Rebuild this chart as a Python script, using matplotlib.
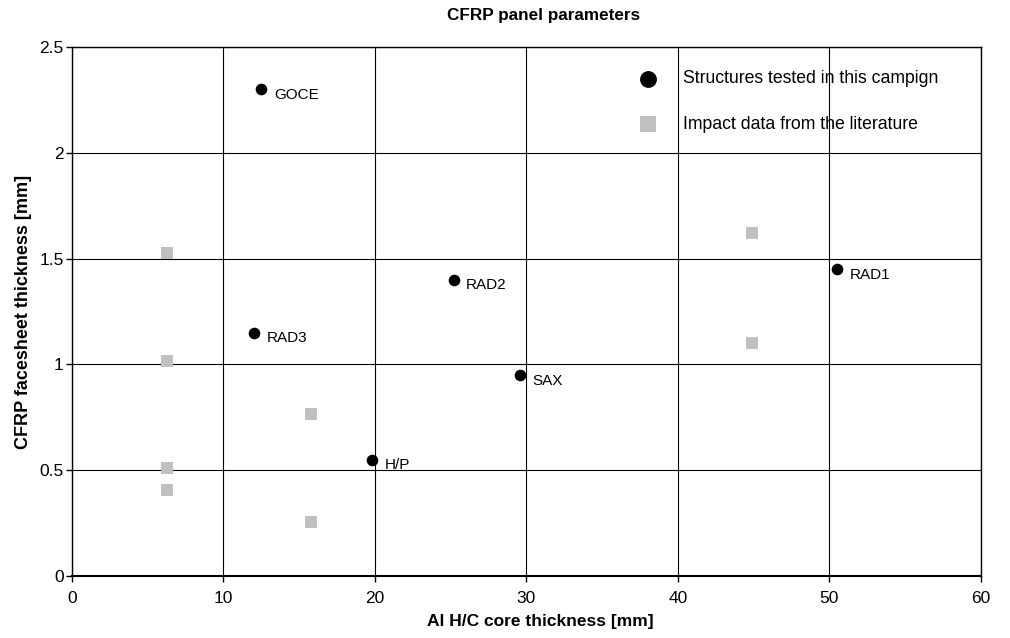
import matplotlib
matplotlib.use("Agg")
import matplotlib.pyplot as plt

plt.rcParams['font.family'] = ['Liberation Sans', 'DejaVu Sans']

# Structures tested in this campaign
names = ['GOCE', 'RAD3', 'RAD2', 'SAX', 'H/P', 'RAD1']
core_tested = [12.5, 12.0, 25.2, 29.6, 19.8, 50.5]
face_tested = [2.30, 1.15, 1.40, 0.95, 0.55, 1.45]

# Impact data from the literature
core_lit = [6.3, 6.3, 6.3, 6.3, 15.8, 15.8, 44.9, 44.9]
face_lit = [1.525, 1.016, 0.51, 0.406, 0.764, 0.254, 1.62, 1.10]

fig = plt.figure(figsize=(10.1, 6.38), dpi=100)
ax = fig.add_axes([0.0713, 0.0972, 0.8997, 0.8291])

ax.scatter(core_lit, face_lit, marker='s', s=70, color='#c0c0c0',
           linewidths=0, zorder=3, label='Impact data from the literature')
ax.scatter(core_tested, face_tested, marker='o', s=70, color='black',
           linewidths=0, zorder=4, label='Structures tested in this campign')

for n, x, y in zip(names, core_tested, face_tested):
    ax.annotate(n, (x, y), xytext=(9, -4), textcoords='offset points',
                fontsize=11, va='center', ha='left')

ax.set_xlim(0, 60)
ax.set_ylim(0, 2.5)
ax.set_xticks(range(0, 61, 10))
ax.set_yticks([0, 0.5, 1, 1.5, 2, 2.5])
ax.set_yticklabels(['0', '0.5', '1', '1.5', '2', '2.5'])
ax.grid(True, color='black', linewidth=0.8)
ax.set_axisbelow(True)
for s in ax.spines.values():
    s.set_color('black')
    s.set_linewidth(1.0)
ax.spines['bottom'].set_linewidth(1.5)
ax.tick_params(axis='both', direction='out', length=4, width=1,
               labelsize=12.5, pad=2)
ax.tick_params(axis='x', pad=7)

ax.set_xlabel('Al H/C core thickness [mm]', fontsize=12.5, fontweight='bold')
ax.xaxis.set_label_coords(0.515, -0.072)
ax.set_ylabel('CFRP facesheet thickness [mm]', fontsize=13, fontweight='bold', labelpad=5)
fig.text(0.538, 0.975, 'CFRP panel parameters', fontsize=12.3, fontweight='bold',
         ha='center', va='center')

handles, labels = ax.get_legend_handles_labels()
leg = ax.legend(handles[::-1], labels[::-1], loc='upper left',
                bbox_to_anchor=(0.601, 0.979), frameon=False, fontsize=12.7,
                markerscale=1.45, labelspacing=1.62, handletextpad=0.97,
                borderpad=0.2)

fig.savefig('out.png', dpi=100)
